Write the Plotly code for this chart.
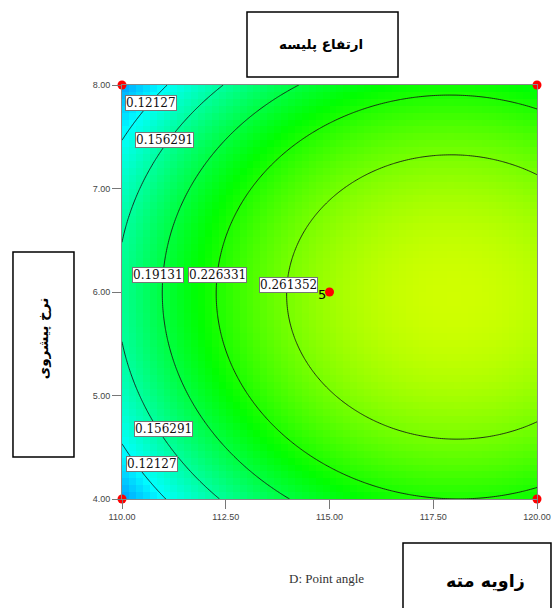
import numpy as np
import plotly.graph_objects as go

# ---------------- data ----------------
point_angle_range = [110.0, 120.0]          # D: Point angle
feed_rate_range = [4.0, 8.0]                # feed rate
x_tick_vals = [110.0, 112.5, 115.0, 117.5, 120.0]
y_tick_vals = [4.0, 5.0, 6.0, 7.0, 8.0]

design_x = [110.0, 110.0, 120.0, 120.0, 115.0]
design_y = [4.0, 8.0, 4.0, 8.0, 6.0]
center_label = "5"

# response-surface coefficients in coded units (A = point angle, B = feed rate)
coef_b0 = 0.2767
coef_A = 0.0634
coef_B = -0.0022
coef_AB = -0.0022
coef_A2 = -0.0528
coef_B2 = -0.0730

contour_levels = [0.12127, 0.156291, 0.19131, 0.226331, 0.261352]
label_texts = ["0.12127", "0.156291", "0.19131", "0.226331", "0.261352", "0.156291", "0.12127"]

title_top = "ارتفاع پلیسه"
title_left = "نرخ پیشروی"
title_bottom = "زاویه مته"
x_axis_title = "D: Point angle"

# ---------------- layout helpers ----------------
label_x = [110.70, 111.02, 110.87, 112.30, 114.01, 111.01, 110.72]
label_y = [7.826, 7.464, 6.169, 6.169, 6.068, 4.681, 4.338]


def response(x, y):
    u = (x - 115.0) / 5.0
    v = (y - 6.0) / 2.0
    return (coef_b0 + coef_A * u + coef_B * v + coef_AB * u * v
            + coef_A2 * u * u + coef_B2 * v * v)


# heatmap cells (blocky, like the original)
ncell = 60
xe = np.linspace(point_angle_range[0], point_angle_range[1], ncell + 1)
ye = np.linspace(feed_rate_range[0], feed_rate_range[1], ncell + 1)
xc = (xe[:-1] + xe[1:]) / 2
yc = (ye[:-1] + ye[1:]) / 2
XC, YC = np.meshgrid(xc, yc)
Zc = response(XC, YC)

# fine grid for contour lines
xf = np.linspace(point_angle_range[0], point_angle_range[1], 201)
yf = np.linspace(feed_rate_range[0], feed_rate_range[1], 201)
XF, YF = np.meshgrid(xf, yf)
Zf = response(XF, YF)

cmin, cmax = 0.0366, 0.314
colorscale = [[0.0, "rgb(0,0,255)"], [0.30, "rgb(0,255,255)"],
              [0.645, "rgb(0,255,0)"], [1.0, "rgb(255,255,0)"]]

fig = go.Figure()
fig.add_trace(go.Heatmap(x=xe, y=ye, z=Zc, colorscale=colorscale, zmin=cmin, zmax=cmax,
                         showscale=False, hoverinfo="skip"))
step = contour_levels[1] - contour_levels[0]
fig.add_trace(go.Contour(x=xf, y=yf, z=Zf, showscale=False, autocontour=False,
                         contours=dict(start=contour_levels[0], end=contour_levels[-1] + step / 2,
                                       size=step, coloring="none"),
                         line=dict(color="rgba(20,20,20,0.85)", width=1, smoothing=1),
                         hoverinfo="skip"))
fig.add_trace(go.Scatter(x=design_x, y=design_y, mode="markers",
                         marker=dict(color="#ff0000", size=9), cliponaxis=False,
                         hoverinfo="skip"))

annotations = []
for t, lx, ly in zip(label_texts, label_x, label_y):
    annotations.append(dict(x=lx, y=ly, xref="x", yref="y", text=t, showarrow=False,
                            xanchor="center", yanchor="middle",
                            font=dict(family="DejaVu Serif", size=12, color="#111"),
                            bgcolor="white", bordercolor="#777", borderwidth=1, borderpad=0))
annotations.append(dict(x=design_x[4] - 0.04, y=design_y[4] - 0.02, xref="x", yref="y",
                        text=center_label, showarrow=False, xanchor="right", yanchor="middle",
                        font=dict(family="DejaVu Sans", size=13, color="black")))
annotations.append(dict(x=0.4916, y=-0.1932, xref="paper", yref="paper", text=x_axis_title,
                        showarrow=False, xanchor="center", yanchor="middle",
                        font=dict(family="Liberation Serif", size=13, color="#333")))
annotations.append(dict(x=0.4795, y=1.1, xref="paper", yref="paper", text="<b>" + title_top + "</b>",
                        showarrow=False, xanchor="center", yanchor="middle",
                        font=dict(family="DejaVu Sans", size=13.5, color="black")))
annotations.append(dict(x=-0.1899, y=0.3865, xref="paper", yref="paper", text="<b>" + title_left + "</b>",
                        showarrow=False, textangle=-90, xanchor="center", yanchor="middle",
                        font=dict(family="DejaVu Sans", size=13.5, color="black")))
annotations.append(dict(x=0.8771, y=-0.1982, xref="paper", yref="paper", text="<b>" + title_bottom + "</b>",
                        showarrow=False, xanchor="center", yanchor="middle",
                        font=dict(family="DejaVu Sans", size=17.5, color="black")))

box = dict(type="rect", xref="paper", yref="paper", line=dict(color="black", width=1.5),
           fillcolor="white", layer="above")
shapes = [
    dict(box, x0=0.3012, x1=0.6651, y0=1.0193, y1=1.1763),
    dict(box, x0=-0.2627, x1=-0.1157, y0=0.1014, y1=0.5966),
    dict(box, x0=0.6771, x1=1.0337, y0=-0.275, y1=-0.1063),
]

fig.update_layout(
    width=554, height=608, autosize=False,
    margin=dict(l=122, r=17, t=85, b=109),
    paper_bgcolor="white", plot_bgcolor="white",
    showlegend=False,
    annotations=annotations, shapes=shapes,
    xaxis=dict(range=point_angle_range, tickvals=x_tick_vals, tickformat=".2f",
               ticks="outside", ticklen=9, tickcolor="#777", showline=True, mirror=True,
               linecolor="#888", linewidth=1, showgrid=False, zeroline=False, automargin=False,
               tickfont=dict(family="Liberation Sans", size=9, color="#444")),
    yaxis=dict(range=feed_rate_range, tickvals=y_tick_vals, tickformat=".2f",
               ticks="outside", ticklen=9, tickcolor="#777", showline=True, mirror=True,
               linecolor="#888", linewidth=1, showgrid=False, zeroline=False, automargin=False,
               tickfont=dict(family="Liberation Sans", size=9, color="#444")),
)

post = ("document.body.style.margin='0';document.body.style.padding='0';"
        "document.body.style.overflow='hidden';"
        "var gd=document.getElementById('{plot_id}');"
        "gd.style.width='554px';gd.style.height='608px';"
        "Plotly.relayout(gd,{width:554,height:608,autosize:false});")
fig.write_html("out.html", post_script=post,
               config={"responsive": False, "displayModeBar": False})
